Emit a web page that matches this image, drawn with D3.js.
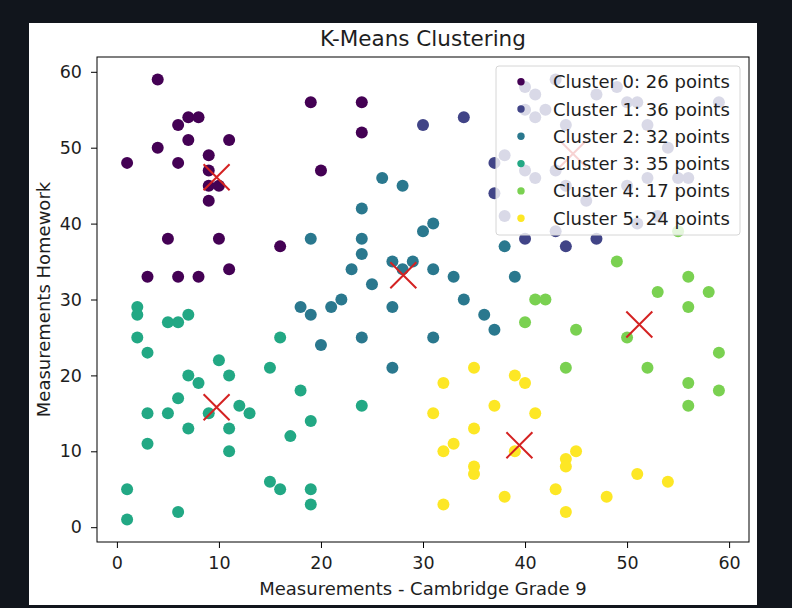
<!DOCTYPE html>
<html>
<head>
<meta charset="utf-8">
<script src="https://cdn.jsdelivr.net/npm/d3@7"></script>
<style>
	body { margin: 0; background: #11151c; }
	svg { display: block; }
	.km-text { font-family: 'DejaVu Sans', sans-serif; fill: #1e1e1e; }
</style>
</head>
<body>
<svg id="chart" width="792" height="608"></svg>
<script>

// points per cluster as [x, y]
var aCluster0 = [[4,59],[1,48],[4,50],[6,53],[7,54],[8,54],[7,51],[6,48],[9,49],[9,47],[9,45],[10,45],[9,43],[11,51],
	[5,38],[10,38],[3,33],[6,33],[8,33],[11,34],[19,56],[24,56],[24,52],[20,47],[16,37]];
var aCluster1 = [[30,53],[34,54],[37,48],[37,44],[40,38],[44,37],[47,38],[43,59],[40,58],[41,57],[42,55],[41,54],[40,55],
	[47,57],[49,58],[50,56],[51,56],[52,53],[54,50],[59,56],[44,53],[38,49],[40,47],[41,46],[43,47],[44,45],[46,43],
	[50,45],[52,46],[55,46],[56,46],[51,40],[53,41],[43,39],[38,41]];
var aCluster2 = [[26,46],[28,45],[24,42],[19,38],[24,38],[24,36],[30,39],[31,40],[27,35],[29,35],[28,34],[23,34],[31,34],
	[33,33],[25,32],[22,30],[21,29],[18,29],[19,28],[27,29],[34,30],[36,28],[37,26],[20,24],[24,25],[31,25],[27,21],
	[38,37],[39,33]];
var aCluster3 = [[2,29],[2,28],[2,25],[3,23],[5,27],[6,27],[7,28],[10,22],[7,20],[8,19],[11,20],[6,17],[3,15],[5,15],
	[9,15],[12,16],[13,15],[7,13],[11,13],[3,11],[11,10],[1,5],[1,1],[6,2],[15,21],[16,25],[18,18],[19,14],[17,12],
	[15,6],[16,5],[19,5],[19,3],[24,16]];
var aCluster4 = [[49,35],[56,33],[53,31],[58,31],[41,30],[42,30],[56,29],[40,27],[45,26],[50,25],[59,23],[44,21],
	[52,21],[56,19],[59,18],[56,16],[55,39]];
var aCluster5 = [[35,21],[32,19],[39,20],[40,19],[37,16],[31,15],[41,15],[35,13],[32,10],[33,11],[39,10],[44,9],
	[44,8],[45,10],[35,8],[35,7],[51,7],[54,6],[43,5],[38,4],[48,4],[32,3],[44,2]];

var aClusters = [aCluster0, aCluster1, aCluster2, aCluster3, aCluster4, aCluster5];
var aClusterCounts = [26, 36, 32, 35, 17, 24];

var aCentroidX = [9.77, 44.7, 28.07, 9.77, 51.2, 39.45];
var aCentroidY = [46.1, 49.2, 33.2, 15.8, 26.7, 10.8];

var aTicks = [0, 10, 20, 30, 40, 50, 60];

var strTitle = 'K-Means Clustering';
var strLabelX = 'Measurements - Cambridge Grade 9';
var strLabelY = 'Measurements Homework';


var sSvg = d3.select('#chart');

// white figure panel
sSvg.append('rect')
	.attr('x', 29)
	.attr('y', 23)
	.attr('width', 728)
	.attr('height', 582)
	.attr('fill', '#ffffff');

var nLeft = 97, nRight = 749, nTop = 57, nBottom = 542;

var scaleX = d3.scaleLinear()
	.domain([-1.95, 61.95])
	.range([nLeft, nRight]);

var scaleY = d3.scaleLinear()
	.domain([-1.95, 61.95])
	.range([nBottom, nTop]);

function ClusterColor(i)
{
	return d3.interpolateViridis(i / (aClusters.length - 1));
}

var axisX = d3.axisBottom(scaleX)
	.tickValues(aTicks)
	.tickSizeInner(6)
	.tickSizeOuter(0)
	.tickPadding(9);

var axisY = d3.axisLeft(scaleY)
	.tickValues(aTicks)
	.tickSizeInner(6)
	.tickSizeOuter(0)
	.tickPadding(9);

var sAxisX = sSvg.append('g')
	.attr('transform', 'translate(0,' + nBottom + ')')
	.call(axisX);

var sAxisY = sSvg.append('g')
	.attr('transform', 'translate(' + nLeft + ',0)')
	.call(axisY);

[sAxisX, sAxisY].forEach(function(sAxis)
{
	sAxis.select('.domain').remove();
	sAxis.selectAll('line').attr('stroke', '#000').attr('stroke-width', 1);
	sAxis.selectAll('text')
		.attr('class', 'km-text')
		.style('font-size', '17.5px');
});

// points
aClusters.forEach(function(aPoints, i)
{
	sSvg.append('g')
		.selectAll('circle')
		.data(aPoints)
		.enter()
			.append('circle')
				.attr('cx', function(p) { return scaleX(p[0]); })
				.attr('cy', function(p) { return scaleY(p[1]); })
				.attr('r', 6)
				.attr('fill', ClusterColor(i));
});

// centroids
sSvg.append('g')
	.selectAll('path')
	.data(aCentroidX)
	.enter()
		.append('path')
			.attr('transform', function(d, i)
				{
					return 'translate(' + scaleX(aCentroidX[i]) + ',' + scaleY(aCentroidY[i]) + ')';
				})
			.attr('d', 'M-13,-13L13,13M-13,13L13,-13')
			.attr('stroke', '#d42222')
			.attr('stroke-width', 2)
			.attr('fill', 'none');

// frame
sSvg.append('rect')
	.attr('x', nLeft)
	.attr('y', nTop)
	.attr('width', nRight - nLeft)
	.attr('height', nBottom - nTop)
	.attr('fill', 'none')
	.attr('stroke', '#000')
	.attr('stroke-width', 1);

// legend
var sLegend = sSvg.append('g');

sLegend.append('rect')
	.attr('x', 496)
	.attr('y', 66)
	.attr('width', 244)
	.attr('height', 169)
	.attr('rx', 3)
	.attr('fill', '#ffffff')
	.attr('fill-opacity', 0.8)
	.attr('stroke', '#d6d6d6');

var sRows = sLegend.selectAll('.km-legend-row')
	.data(aClusterCounts)
	.enter()
		.append('g')
			.attr('class', 'km-legend-row')
			.attr('transform', function(d, i)
				{
					return 'translate(0,' + (81.7 + i * 27.3) + ')';
				});

sRows.append('circle')
	.attr('cx', 521)
	.attr('cy', 0)
	.attr('r', 3.7)
	.attr('fill', function(d, i) { return ClusterColor(i); });

sRows.append('text')
	.attr('class', 'km-text')
	.attr('x', 553)
	.attr('y', 6.5)
	.style('font-size', '18px')
	.text(function(d, i) { return 'Cluster ' + i + ': ' + d + ' points'; });

// titles
sSvg.append('text')
	.attr('class', 'km-text')
	.attr('x', (nLeft + nRight) / 2)
	.attr('y', 45.5)
	.attr('text-anchor', 'middle')
	.style('font-size', '21.5px')
	.text(strTitle);

sSvg.append('text')
	.attr('class', 'km-text')
	.attr('x', (nLeft + nRight) / 2)
	.attr('y', 594.5)
	.attr('text-anchor', 'middle')
	.style('font-size', '18px')
	.text(strLabelX);

sSvg.append('text')
	.attr('class', 'km-text')
	.attr('transform', 'translate(50,' + ((nTop + nBottom) / 2) + ') rotate(-90)')
	.attr('text-anchor', 'middle')
	.style('font-size', '18px')
	.text(strLabelY);

</script>
</body>
</html>
